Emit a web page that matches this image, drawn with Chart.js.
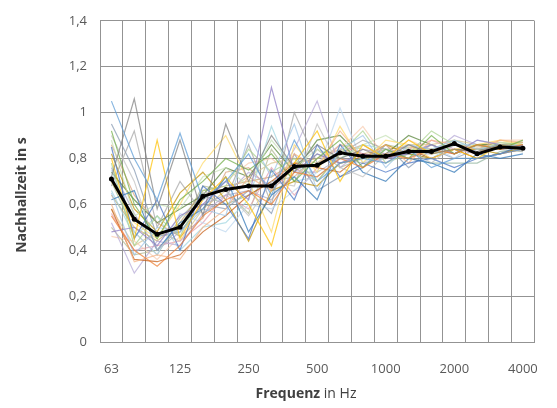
<!DOCTYPE html>
<html>
<head>
<meta charset="utf-8">
<script src="https://cdn.jsdelivr.net/npm/chart.js@4/dist/chart.umd.min.js"></script>
<style>
  html, body { margin: 0; padding: 0; background: #fff; }
  #wrap { width: 557px; height: 408px; }
</style>
</head>
<body>
<div id="wrap"><canvas id="chart"></canvas></div>
<script>
// Terzband-Mittenfrequenzen in Hz
var frequencies = ["63", "80", "100", "125", "160", "200", "250", "315", "400", "500",
    "630", "800", "1000", "1250", "1600", "2000", "2500", "3150", "4000"];

// Mittelwert (schwarze Linie)
var mean = [0.71, 0.535, 0.47, 0.50, 0.635, 0.665, 0.68, 0.68, 0.765, 0.77,
    0.825, 0.81, 0.81, 0.83, 0.83, 0.865, 0.82, 0.85, 0.845];

// Einzelmessungen
var m1  = [1.05, 0.80, 0.62, 0.91, 0.62, 0.70, 0.82, 0.64, 0.88, 0.70, 0.78, 0.80, 0.78, 0.84, 0.76, 0.80, 0.80, 0.82, 0.84];
var m2  = [0.72, 1.06, 0.58, 0.88, 0.55, 0.95, 0.70, 0.90, 0.76, 0.86, 0.80, 0.84, 0.80, 0.86, 0.82, 0.84, 0.83, 0.86, 0.85];
var m3  = [0.55, 0.40, 0.33, 0.42, 0.55, 0.62, 0.66, 0.60, 0.74, 0.72, 0.80, 0.76, 0.82, 0.80, 0.84, 0.82, 0.86, 0.84, 0.86];
var m4  = [0.80, 0.45, 0.88, 0.45, 0.62, 0.72, 0.60, 0.42, 0.78, 0.92, 0.70, 0.86, 0.80, 0.88, 0.82, 0.84, 0.80, 0.86, 0.84];
var m5  = [0.92, 0.60, 0.45, 0.62, 0.70, 0.80, 0.75, 0.82, 0.70, 0.80, 0.88, 0.76, 0.84, 0.80, 0.90, 0.82, 0.86, 0.84, 0.88];
var m6  = [0.65, 0.38, 0.50, 0.48, 0.58, 0.55, 0.90, 0.72, 0.95, 0.66, 0.84, 0.90, 0.76, 0.86, 0.84, 0.88, 0.84, 0.86, 0.85];
var m7  = [0.48, 0.50, 0.42, 0.55, 0.60, 0.70, 0.62, 1.11, 0.74, 0.82, 0.78, 0.82, 0.80, 0.82, 0.86, 0.82, 0.88, 0.86, 0.84];
var m8  = [0.85, 0.45, 0.62, 0.40, 0.68, 0.60, 0.45, 0.75, 0.62, 0.86, 0.72, 0.78, 0.74, 0.78, 0.80, 0.76, 0.80, 0.82, 0.86];
var m9  = [0.60, 0.35, 0.38, 0.36, 0.50, 0.58, 0.72, 0.66, 0.82, 0.76, 0.92, 0.80, 0.86, 0.78, 0.88, 0.86, 0.84, 0.88, 0.87];
var m10 = [0.90, 0.70, 0.40, 0.50, 0.65, 0.66, 0.55, 0.70, 0.68, 0.95, 0.76, 0.72, 0.82, 0.84, 0.78, 0.86, 0.82, 0.85, 0.83];
var m11 = [0.70, 0.52, 0.45, 0.60, 0.78, 0.90, 0.70, 0.48, 0.86, 0.74, 0.94, 0.78, 0.88, 0.86, 0.80, 0.84, 0.86, 0.88, 0.86];
var m12 = [0.78, 0.42, 0.55, 0.46, 0.66, 0.68, 0.84, 0.74, 0.80, 0.70, 0.82, 0.92, 0.78, 0.82, 0.92, 0.86, 0.84, 0.86, 0.87];
var m13 = [0.62, 0.66, 0.40, 0.52, 0.58, 0.72, 0.48, 0.64, 0.72, 0.62, 0.86, 0.74, 0.70, 0.80, 0.78, 0.74, 0.82, 0.80, 0.82];
var m14 = [0.58, 0.36, 0.35, 0.38, 0.48, 0.55, 0.64, 0.70, 0.78, 0.76, 0.74, 0.82, 0.80, 0.84, 0.80, 0.84, 0.80, 0.82, 0.84];
var m15 = [0.68, 0.92, 0.50, 0.70, 0.56, 0.62, 0.86, 0.60, 1.00, 0.78, 0.82, 0.88, 0.84, 0.80, 0.86, 0.82, 0.86, 0.84, 0.86];
var m16 = [0.88, 0.55, 0.60, 0.58, 0.72, 0.76, 0.68, 0.88, 0.76, 0.84, 0.80, 0.86, 0.90, 0.84, 0.84, 0.88, 0.84, 0.87, 0.86];
var m17 = [0.52, 0.30, 0.44, 0.42, 0.56, 0.64, 0.74, 0.68, 0.84, 1.05, 0.76, 0.84, 0.82, 0.86, 0.82, 0.90, 0.86, 0.84, 0.85];
var m18 = [0.75, 0.48, 0.38, 0.56, 0.52, 0.48, 0.60, 0.58, 0.66, 0.74, 1.02, 0.78, 0.84, 0.82, 0.86, 0.80, 0.88, 0.86, 0.84];
var m19 = [0.46, 0.44, 0.36, 0.46, 0.62, 0.70, 0.78, 0.80, 0.72, 0.80, 0.84, 0.94, 0.80, 0.88, 0.84, 0.86, 0.82, 0.88, 0.88];
var m20 = [0.82, 0.58, 0.48, 0.65, 0.74, 0.62, 0.44, 0.66, 0.70, 0.68, 0.78, 0.80, 0.86, 0.82, 0.80, 0.84, 0.84, 0.82, 0.85];
var m21 = [0.74, 0.62, 0.52, 0.58, 0.64, 0.76, 0.72, 0.86, 0.74, 0.88, 0.90, 0.80, 0.82, 0.90, 0.86, 0.82, 0.86, 0.86, 0.84];
var m22 = [0.95, 0.75, 0.46, 0.48, 0.60, 0.58, 0.66, 0.56, 0.82, 0.66, 0.72, 0.76, 0.86, 0.76, 0.84, 0.80, 0.84, 0.84, 0.86];
var m23 = [0.56, 0.40, 0.42, 0.44, 0.52, 0.64, 0.58, 0.76, 0.64, 0.76, 0.86, 0.82, 0.78, 0.84, 0.88, 0.84, 0.82, 0.86, 0.84];
var m24 = [0.66, 0.46, 0.55, 0.40, 0.50, 0.52, 0.62, 0.94, 0.70, 0.72, 0.80, 0.86, 0.84, 0.82, 0.80, 0.86, 0.86, 0.84, 0.87];
var m25 = [0.64, 0.50, 0.44, 0.52, 0.66, 0.68, 0.70, 0.72, 0.78, 0.80, 0.84, 0.82, 0.84, 0.85, 0.84, 0.86, 0.85, 0.86, 0.86];
var m26 = [0.76, 0.56, 0.40, 0.48, 0.60, 0.64, 0.66, 0.62, 0.74, 0.74, 0.80, 0.78, 0.80, 0.82, 0.82, 0.84, 0.84, 0.85, 0.85];
var m27 = [0.58, 0.42, 0.48, 0.44, 0.58, 0.66, 0.72, 0.78, 0.80, 0.78, 0.86, 0.84, 0.82, 0.86, 0.86, 0.88, 0.86, 0.87, 0.86];
var m28 = [0.70, 0.48, 0.38, 0.54, 0.64, 0.60, 0.64, 0.70, 0.72, 0.82, 0.78, 0.80, 0.84, 0.80, 0.78, 0.78, 0.78, 0.83, 0.84];
var m29 = [0.86, 0.64, 0.52, 0.46, 0.54, 0.74, 0.76, 0.66, 0.76, 0.70, 0.82, 0.86, 0.80, 0.84, 0.84, 0.82, 0.86, 0.86, 0.87];
var m30 = [0.50, 0.38, 0.40, 0.50, 0.68, 0.66, 0.56, 0.84, 0.70, 0.84, 0.76, 0.80, 0.86, 0.84, 0.82, 0.86, 0.84, 0.84, 0.83];

var measurements = [m1, m2, m3, m4, m5, m6, m7, m8, m9, m10, m11, m12, m13, m14, m15,
    m16, m17, m18, m19, m20, m21, m22, m23, m24, m25, m26, m27, m28, m29, m30];

var lineColors = ["#5B9BD5", "#7F7F7F", "#ED7D31", "#FFC000", "#70AD47", "#9DC3E6",
    "#8E7CC3", "#4472C4", "#F4B183", "#BFBFBF", "#FFD966", "#A9D18E",
    "#2E75B6", "#C55A11", "#A5A5A5", "#C5E0B4", "#B4A7D6", "#BDD7EE",
    "#F8CBAD", "#BF9000", "#548235", "#8497B0", "#E4A0B0", "#9FD5E0",
    "#C9A66B", "#A9A9C8", "#D6C48A", "#93B5A0", "#D9A07C", "#B0B890"];

var yTicks = [0, 0.2, 0.4, 0.6, 0.8, 1, 1.2, 1.4];

var datasets = [{
    label: "Mittelwert",
    data: mean,
    borderColor: "#000000",
    backgroundColor: "#000000",
    borderWidth: 3,
    pointRadius: 2.5,
    pointBackgroundColor: "#000000",
    pointBorderWidth: 0,
    order: 0,
}];
measurements.forEach(function (m, i) {
    datasets.push({
        label: "Messung " + (i + 1),
        data: m,
        borderColor: lineColors[i] + "B8",
        borderWidth: 1.2,
        pointRadius: 0,
        order: 1,
    });
});

// Achsentitel (gemischte Schriftstärke bei der x-Achse)
var axisTitles = {
    id: "axisTitles",
    afterDraw: function (chart) {
        var ctx = chart.ctx;
        ctx.save();
        ctx.fillStyle = "#404040";
        ctx.textBaseline = "middle";
        ctx.textAlign = "left";
        ctx.font = "bold 14px 'Open Sans'";
        var w1 = ctx.measureText("Frequenz").width;
        ctx.font = "14px 'Open Sans'";
        var w2 = ctx.measureText(" in Hz").width;
        var x0 = 306 - (w1 + w2) / 2;
        ctx.font = "bold 14px 'Open Sans'";
        ctx.fillText("Frequenz", x0, 394);
        ctx.font = "14px 'Open Sans'";
        ctx.fillText(" in Hz", x0 + w1, 394);

        ctx.translate(22, 195);
        ctx.rotate(-Math.PI / 2);
        ctx.textAlign = "center";
        ctx.font = "bold 14px 'Open Sans'";
        ctx.fillText("Nachhallzeit in s", 0, 0);
        ctx.restore();
    },
};

var config = {
    type: "line",
    data: {
        labels: frequencies,
        datasets: datasets,
    },
    options: {
        responsive: true,
        maintainAspectRatio: false,
        animation: false,
        layout: {
            padding: { left: 0, right: 9, top: 20, bottom: 0 },
        },
        plugins: {
            legend: { display: false },
            tooltip: { enabled: false },
        },
        elements: {
            line: { tension: 0 },
        },
        scales: {
            x: {
                offset: true,
                grid: {
                    offset: true,
                    color: "#939393",
                    drawTicks: false,
                },
                border: { color: "#939393" },
                ticks: {
                    autoSkip: false,
                    maxRotation: 0,
                    padding: 19,
                    color: "#595959",
                    font: { family: "Open Sans", size: 13 },
                    callback: function (value, index) {
                        return index % 3 === 0 ? frequencies[index] : "";
                    },
                },
                afterFit: function (scale) {
                    scale.height = 66;
                },
            },
            y: {
                min: 0,
                max: 1.4,
                afterBuildTicks: function (scale) {
                    scale.ticks = yTicks.map(function (v) { return { value: v }; });
                },
                grid: {
                    color: "#939393",
                    drawTicks: false,
                },
                border: { color: "#939393" },
                ticks: {
                    padding: 13,
                    color: "#595959",
                    font: { family: "Open Sans", size: 13 },
                    callback: function (value) {
                        return String(Math.round(value * 10) / 10).replace(".", ",");
                    },
                },
                afterFit: function (scale) {
                    scale.width = 100;
                },
            },
        },
    },
    plugins: [axisTitles],
};

var ctx = document.getElementById("chart").getContext("2d");
var reverbChart = new Chart(ctx, config);
</script>
</body>
</html>
